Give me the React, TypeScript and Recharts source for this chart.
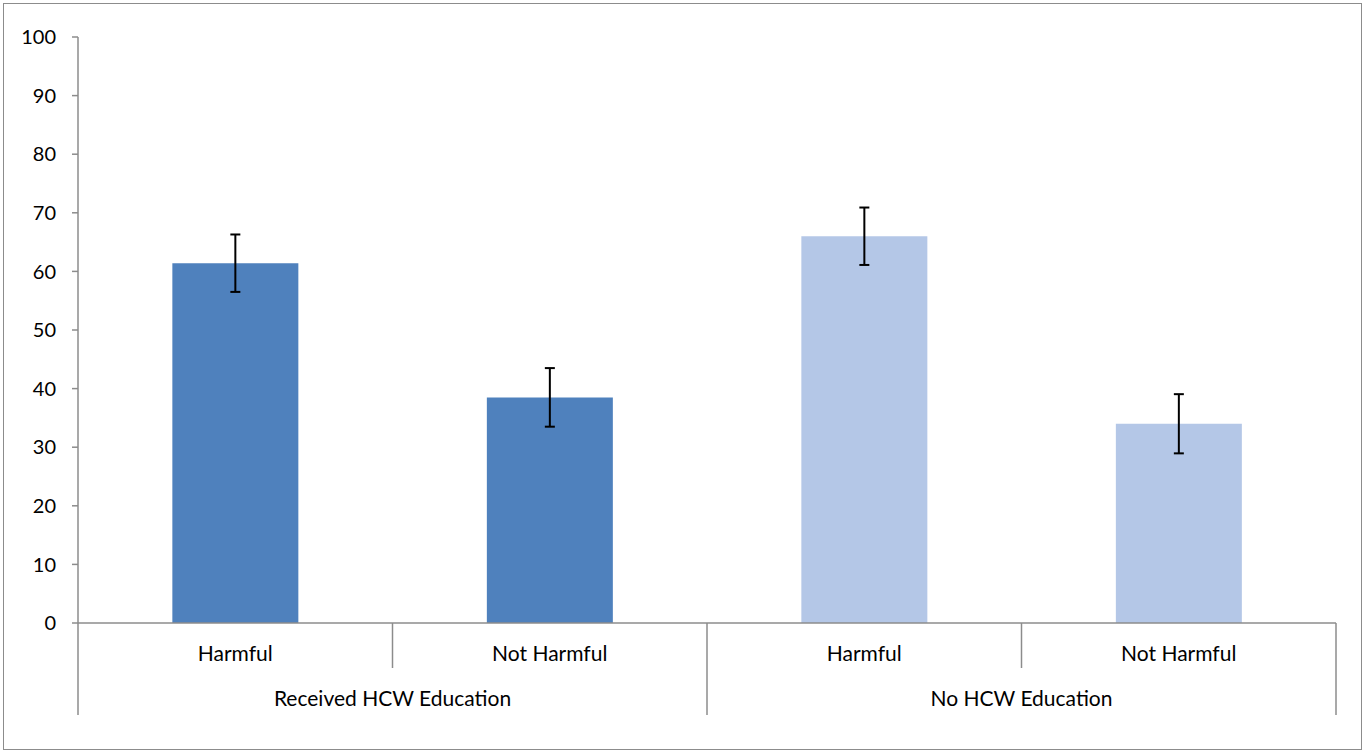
import { BarChart, Bar, XAxis, YAxis, Cell, ErrorBar } from "recharts";

const categories = ["Harmful", "Not Harmful", "Harmful", "Not Harmful"];
const groups = ["Received HCW Education", "Received HCW Education", "No HCW Education", "No HCW Education"];
const percentages = [61.4, 38.5, 66.0, 34.0];
const errors = [4.9, 5.0, 4.9, 5.05];
const yTicks = [0, 10, 20, 30, 40, 50, 60, 70, 80, 90, 100];

const W = 1366;
const H = 754;
const LEFT = 78;
const RIGHT = 30;
const TOP = 37;
const AXIS_H = 131;
const BAND = (W - LEFT - RIGHT) / categories.length;
const FONT = "Lato, 'Open Sans', sans-serif";
const AXIS_COLOR = "#8c8c8c";

const groupColor = (g: string) => (g.startsWith("Received") ? "#4f81bd" : "#b4c7e7");

const data = categories.map((c, i) => ({
  key: `${groups[i]}-${c}`,
  label: c,
  group: groups[i],
  value: percentages[i],
  err: errors[i],
}));

function CategoryTick(props: any) {
  const { x, y, index } = props;
  const item = data[index];
  const base = y; // axis line y (tickSize 0, tickMargin 0)
  const right = x + BAND / 2;
  const isGroupEnd = index % 2 === 1;
  const nodes: any[] = [];
  nodes.push(
    <text key="t" x={x} y={base + 38} textAnchor="middle" fontSize={21} fontFamily={FONT} fill="#000">
      {item.label}
    </text>
  );
  nodes.push(
    <line key="s" x1={right} y1={base} x2={right} y2={base + (isGroupEnd ? 92 : 45)} stroke={AXIS_COLOR} strokeWidth={1.5} />
  );
  if (index === 0) {
    nodes.push(
      <line key="l" x1={x - BAND / 2} y1={base} x2={x - BAND / 2} y2={base + 92} stroke={AXIS_COLOR} strokeWidth={1.5} />
    );
  }
  if (!isGroupEnd) {
    nodes.push(
      <text key="g" x={right} y={base + 83} textAnchor="middle" fontSize={21} fontFamily={FONT} fill="#000">
        {item.group}
      </text>
    );
  }
  return <g>{nodes}</g>;
}

export default function App() {
  return (
    <div style={{ position: "absolute", left: 0, top: 0, width: W, height: H, background: "#fff" }}>
      <div
        style={{
          position: "absolute",
          left: 3,
          top: 3,
          width: W - 7,
          height: H - 7,
          border: "1.5px solid #8c8c8c",
          boxSizing: "border-box",
        }}
      />
      <BarChart
        width={W}
        height={H}
        data={data}
        margin={{ top: TOP, right: RIGHT, left: 0, bottom: 0 }}
        barCategoryGap="30%"
        style={{ position: "absolute", left: 0, top: 0 }}
      >
        <XAxis
          dataKey="key"
          height={AXIS_H}
          tickLine={false}
          tickSize={0}
          tickMargin={0}
          axisLine={{ stroke: AXIS_COLOR, strokeWidth: 1.5 }}
          tick={<CategoryTick />}
          interval={0}
        />
        <YAxis
          width={LEFT}
          domain={[0, 100]}
          ticks={yTicks}
          interval={0}
          tickSize={6}
          tickMargin={16}
          tickLine={{ stroke: AXIS_COLOR, strokeWidth: 1.5 }}
          axisLine={{ stroke: AXIS_COLOR, strokeWidth: 1.5 }}
          tick={{ fill: "#000", fontSize: 20, fontFamily: FONT }}
        />
        <Bar dataKey="value" isAnimationActive={false}>
          {data.map((d) => (
            <Cell key={d.key} fill={groupColor(d.group)} />
          ))}
          <ErrorBar dataKey="err" width={5} stroke="#000" strokeWidth={2} isAnimationActive={false} />
        </Bar>
      </BarChart>
    </div>
  );
}
